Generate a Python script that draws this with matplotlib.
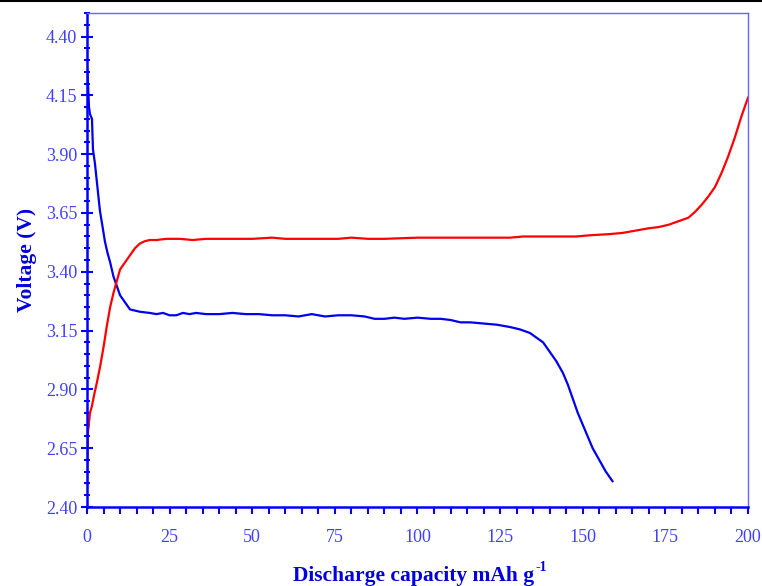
import numpy as np
import matplotlib.pyplot as plt
from matplotlib.ticker import MultipleLocator
from matplotlib.lines import Line2D

# discharge curve (blue)
dis_cap = [0.0, 0.3, 0.6, 0.9, 1.5, 1.8, 2.4, 3.0, 3.9, 4.6, 5.4, 6.2, 7.0, 8.0, 9.0, 10.0,
           11.5, 13.0, 14.5, 16.0, 19.0, 21.0, 23.0, 25.0, 27.0, 29.0, 31.0, 33.0, 36.0,
           40.0, 44.0, 48.0, 52.0, 56.0, 60.0, 64.0, 68.0, 72.0, 76.0, 80.0, 84.0, 87.0,
           90.0, 93.0, 96.0, 100.0, 104.0, 107.0, 110.0, 113.0, 116.0, 120.0, 124.0,
           128.0, 131.0, 134.0, 136.0, 138.0, 140.0, 142.0, 144.0, 145.5, 147.0, 148.5,
           150.0, 151.5, 153.0, 155.0, 157.0, 159.0]
dis_v = [4.27, 4.20, 4.10, 4.07, 4.05, 3.92, 3.86, 3.78, 3.66, 3.60, 3.53, 3.48, 3.44,
         3.38, 3.34, 3.30, 3.27, 3.24, 3.235, 3.23, 3.225, 3.22, 3.225, 3.215, 3.215,
         3.225, 3.22, 3.225, 3.22, 3.22, 3.225, 3.22, 3.22, 3.215, 3.215, 3.21, 3.22,
         3.21, 3.215, 3.215, 3.21, 3.20, 3.20, 3.205, 3.20, 3.205, 3.20, 3.20, 3.195,
         3.185, 3.185, 3.18, 3.175, 3.165, 3.155, 3.14, 3.12, 3.10, 3.06, 3.02, 2.97,
         2.92, 2.86, 2.80, 2.75, 2.70, 2.65, 2.60, 2.55, 2.51]

# charge curve (red)
chg_cap = [0.0, 0.15, 0.3, 0.6, 0.9, 1.5, 2.2, 3.0, 4.0, 5.0, 6.0, 7.0, 8.0, 9.0, 10.0,
           11.5, 13.0, 14.5, 16.0, 17.5, 19.0, 21.0, 24.0, 28.0, 32.0, 36.0, 40.0, 50.0,
           56.0, 60.0, 66.0, 76.0, 80.0, 85.0, 90.0, 100.0, 110.0, 120.0, 128.0, 132.0,
           140.0, 148.0, 152.0, 158.0, 162.0, 166.0, 170.0, 173.0, 176.0, 179.0, 182.0,
           184.0, 186.0, 188.0, 190.0, 192.0, 194.0, 196.0, 198.0, 200.0]
chg_v = [2.49, 2.62, 2.72, 2.76, 2.80, 2.83, 2.88, 2.93, 3.00, 3.08, 3.17, 3.25, 3.31,
         3.36, 3.41, 3.44, 3.47, 3.50, 3.52, 3.53, 3.535, 3.535, 3.54, 3.54, 3.535,
         3.54, 3.54, 3.54, 3.545, 3.54, 3.54, 3.54, 3.545, 3.54, 3.54, 3.545, 3.545,
         3.545, 3.545, 3.55, 3.55, 3.55, 3.555, 3.56, 3.565, 3.575, 3.585, 3.59, 3.60,
         3.615, 3.63, 3.655, 3.685, 3.72, 3.76, 3.82, 3.89, 3.97, 4.06, 4.14]

serif = 'Liberation Serif'
label_col = '#0000dd'

fig = plt.figure(figsize=(7.62, 5.86), dpi=100)
ax = fig.add_axes([0.1142, 0.1348, 0.8674, 0.843])

ax.plot(dis_cap, dis_v, color='#0000ee', lw=1.6)
ax.plot(chg_cap, chg_v, color='#ff0000', lw=1.6)

ax.set_xlim(0, 200)
ax.set_ylim(2.40, 4.50)
ax.xaxis.set_major_locator(MultipleLocator(25))
ax.xaxis.set_minor_locator(MultipleLocator(5))
ax.set_yticks([2.40, 2.65, 2.90, 3.15, 3.40, 3.65, 3.90, 4.15, 4.40])
ax.yaxis.set_minor_locator(MultipleLocator(0.05))
ax.yaxis.set_major_formatter(plt.FormatStrFormatter('%.2f'))

tick_col = '#4040ff'
for lab in ax.get_xticklabels() + ax.get_yticklabels():
    lab.set_fontfamily(serif)
ax.tick_params(axis='y', which='major', direction='inout', length=8, width=1.5,
               color='#0000ff', labelcolor=tick_col, labelsize=13, pad=3)
ax.tick_params(axis='y', which='minor', direction='inout', length=5, width=1.5,
               color='#0000ff')
ax.tick_params(axis='x', which='both', direction='out', length=5, width=1.5,
               color='#0000ff', labelcolor=tick_col, labelsize=13, pad=11)

ax.spines['left'].set_color('#0000ff')
ax.spines['left'].set_linewidth(1.8)
ax.spines['bottom'].set_color('#0000ff')
ax.spines['bottom'].set_linewidth(1.8)
ax.spines['top'].set_color('#6666ff')
ax.spines['top'].set_linewidth(1.0)
ax.spines['right'].set_color('#6666ff')
ax.spines['right'].set_linewidth(1.0)

ax.set_ylabel('Voltage (V)', fontfamily=serif, fontsize=15.5,
              fontweight='bold', color=label_col, labelpad=6)

# x label with small superscript
fig.text(534 / 762, 1 - 581 / 586, 'Discharge capacity mAh g', ha='right', va='baseline',
         fontfamily=serif, fontsize=15.5, fontweight='bold', color=label_col)
fig.text(536 / 762, 1 - 571 / 586, '-1', ha='left', va='baseline',
         fontfamily=serif, fontsize=10, fontweight='bold', color=label_col)

fig.add_artist(Line2D([0, 1], [0.999, 0.999], transform=fig.transFigure,
                      color='black', lw=1.5))

fig.savefig('out.png', dpi=100)
